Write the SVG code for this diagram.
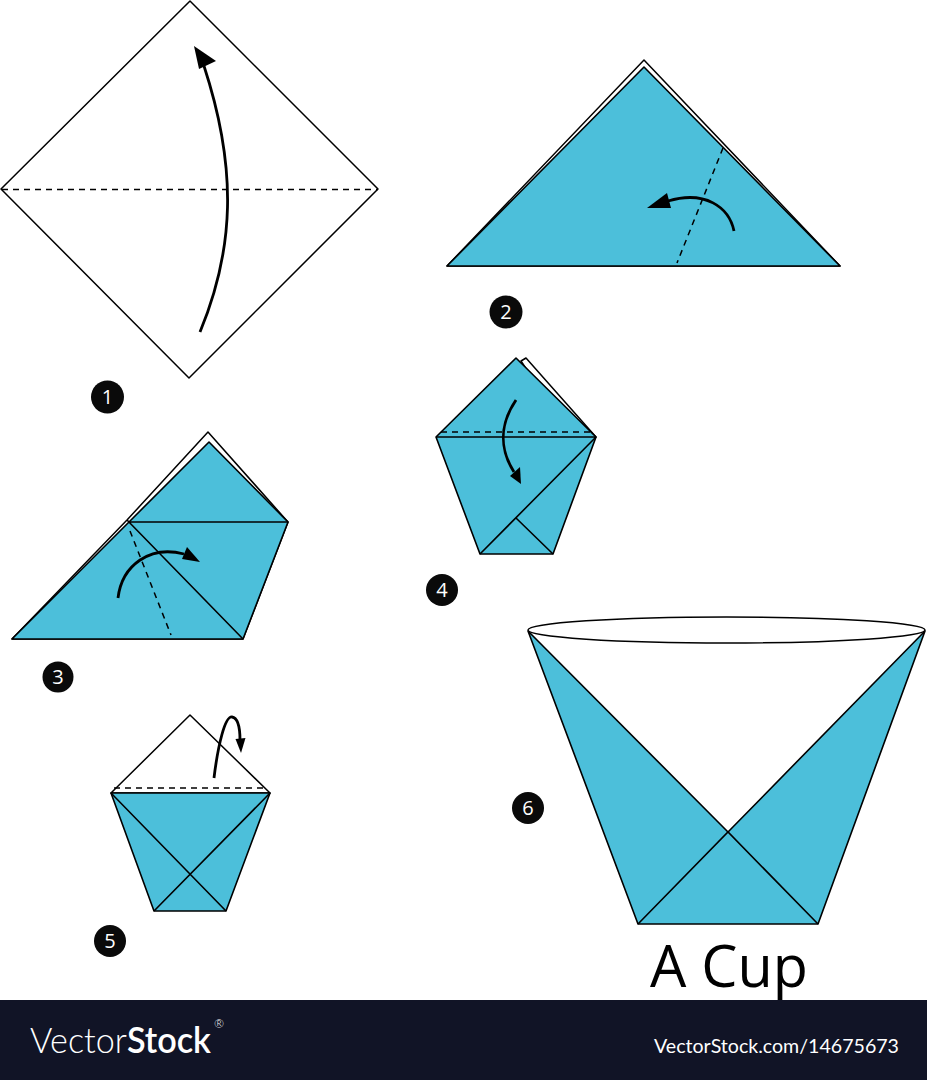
<svg xmlns="http://www.w3.org/2000/svg" width="927" height="1080" viewBox="0 0 927 1080">
<style>
.b{fill:#4cbfda;stroke:#000;stroke-width:1.6;stroke-linejoin:round}
.w{fill:#fff;stroke:#000;stroke-width:1.5;stroke-linejoin:round}
.l{fill:none;stroke:#000;stroke-width:1.6}
.d{fill:none;stroke:#000;stroke-width:1.5;stroke-dasharray:6 5}
.a{fill:none;stroke:#000;stroke-width:2.8}
.h{fill:#000}
.c{fill:#0a0a0a}
.n{fill:#fff;font:20px "Open Sans",sans-serif;text-anchor:middle}
</style>
<rect width="927" height="1080" fill="#fff"/>
<g id="step1">
<path class="w" d="M190 1L378 189L189 378L1 189Z"/>
</g>
<g id="step2">
<path class="w" d="M447 266L644 60L840 266Z"/>
<path class="b" d="M447 266L644 67L840 266Z"/>
</g>
<g id="step3">
<path class="w" d="M12 639L127 520L208 432L288 522L243 639Z"/>
<path class="b" d="M12 639L129 522L209 442L288 522L243 639Z"/>
<path class="l" d="M129 522H288M127 520L243 639"/>
</g>
<g id="step4">
<path class="w" d="M521 361L526 358L596 437L560 420Z"/>
<path class="b" d="M516 358L596 437L553 554H480L436 437Z"/>
<path class="l" d="M436 437H596M596 437L480 554M516 518L553 554"/>
</g>
<g id="step5">
<path class="w" d="M190 715L270 793H111Z"/>
<path class="b" d="M111 793H270L226 911H154Z"/>
<path class="l" d="M111 793L226 911M270 793L154 911"/>
</g>
<g id="step6">
<path class="b" d="M528 631L638 924H818L925 631L728 832Z"/>
<path class="l" d="M638 924L728 832L818 924"/>
<ellipse class="w" cx="726.500" cy="630" rx="198.500" ry="13"/>
</g>
<g id="connectors">
<path class="d" d="M2 189.500H378"/>
<path class="a" d="M200 332C234 250 238 170 204 66"/>
<path class="h" d="M194 46L216 61L199 69Z"/>
<path class="d" d="M723 148L677 263"/>
<path class="a" d="M734 231C729 207 705 190 668 201"/>
<path class="h" d="M647 208L667 193L671 208Z"/>
<path class="d" d="M130 531L171 635"/>
<path class="a" d="M118 598C122 565 150 545 184 554"/>
<path class="h" d="M200 562L187 547L182 559Z"/>
<path class="d" d="M441 432H592"/>
<path class="a" d="M516 400C499 425 500 450 514 472"/>
<path class="h" d="M521 484L510 476L520 467Z"/>
<path class="d" d="M114 788H268"/>
<path class="a" d="M214 778C218 745 225 716 232 717C238 718 240 728 240 740"/>
<path class="h" d="M241 753L235.500 739L245.500 738Z"/>
</g>
<g id="badges">
<circle class="c" cx="107.500" cy="397" r="16.500"/><text class="n" x="107.500" y="404">1</text>
<circle class="c" cx="506" cy="312" r="16.500"/><text class="n" x="506" y="319">2</text>
<circle class="c" cx="58" cy="677" r="15.500"/><text class="n" x="58" y="684">3</text>
<circle class="c" cx="442" cy="590" r="16"/><text class="n" x="442" y="597">4</text>
<circle class="c" cx="110" cy="941" r="16"/><text class="n" x="110" y="948">5</text>
<circle class="c" cx="528" cy="808" r="16"/><text class="n" x="528" y="815">6</text>
</g>
<text x="650" y="987" font-family="Open Sans, sans-serif" font-size="58" textLength="158" lengthAdjust="spacingAndGlyphs" fill="#000">A Cup</text>
<rect y="1000" width="927" height="80" fill="#111426"/>
<text x="30" y="1053" font-family="Lato, sans-serif" font-size="36" textLength="181" lengthAdjust="spacingAndGlyphs" fill="#fff"><tspan font-weight="300">Vector</tspan><tspan font-weight="600">Stock</tspan></text>
<text x="214" y="1028" font-family="Lato, sans-serif" font-size="12" font-weight="300" fill="#fff">®</text>
<text x="654" y="1053" font-family="Lato, sans-serif" font-size="20" textLength="245" lengthAdjust="spacingAndGlyphs" fill="#fff">VectorStock.com/14675673</text>
</svg>
